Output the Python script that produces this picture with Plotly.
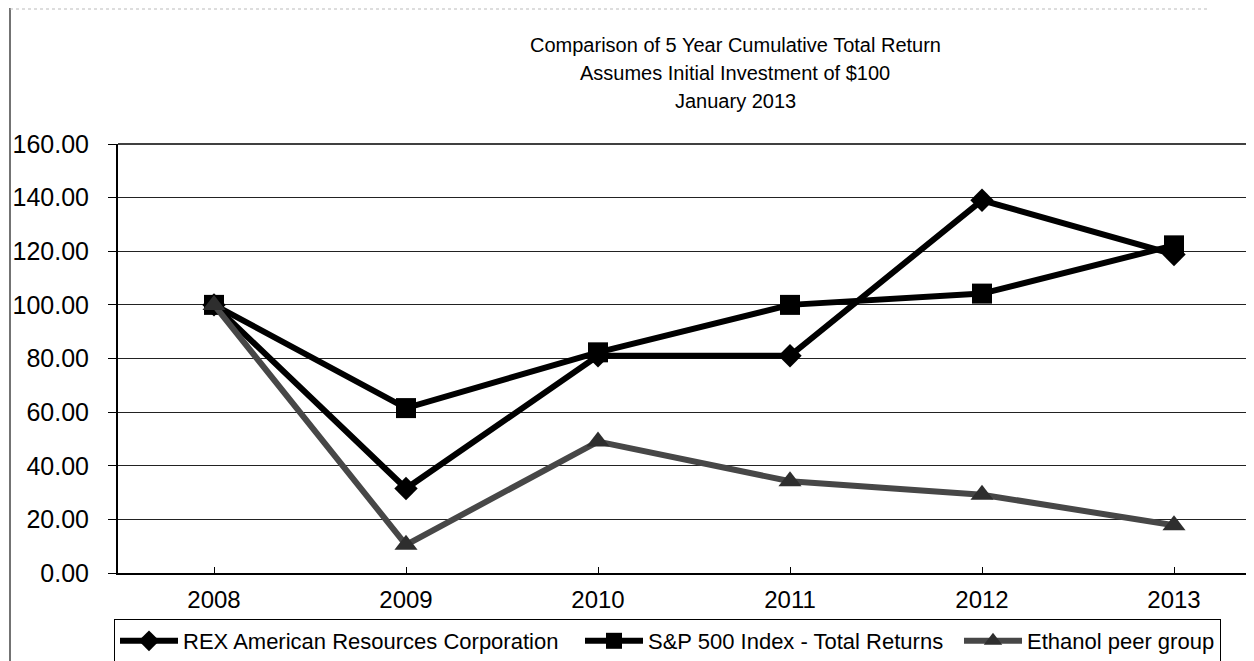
import plotly.graph_objects as go

years = ["2008", "2009", "2010", "2011", "2012", "2013"]
rex = [100.0, 31.5, 81.0, 81.0, 139.0, 118.8]
sp500 = [100.0, 61.5, 82.3, 100.0, 104.2, 122.2]
ethanol = [100.0, 10.5, 49.0, 34.2, 29.2, 17.8]
names = ["REX American Resources Corporation", "S&P 500 Index - Total Returns", "Ethanol peer group"]
titles = ["Comparison of 5 Year Cumulative Total Return", "Assumes Initial Investment of $100", "January 2013"]

# the page body adds an 8px margin, so the figure is drawn 8px smaller
OFF = 8
W, H = 1254 - OFF, 661 - OFF
L, R, T, B = 118 - OFF, 0, 144 - OFF, 661 - 573
pw, ph = W - L - R, H - T - B

FONT = "Liberation Sans, Arial, sans-serif"

def px(xpage):
    return (xpage - OFF - L) / pw

def py(ypage):
    return (H - B - (ypage - OFF)) / ph

fig = go.Figure()
fig.add_trace(go.Scatter(x=years, y=rex, name=names[0], mode="lines+markers",
                         line=dict(color="black", width=6), legendwidth=392,
                         marker=dict(symbol="diamond", size=18, color="black")))
fig.add_trace(go.Scatter(x=years, y=sp500, name=names[1], mode="lines+markers",
                         line=dict(color="black", width=6), legendwidth=306,
                         marker=dict(symbol="square", size=20, color="black")))
fig.add_trace(go.Scatter(x=years, y=ethanol, name=names[2], mode="lines+markers",
                         line=dict(color="#474747", width=6),
                         marker=dict(symbol="triangle-up", size=20, color="#2e2e2e")))

# x range: categories spaced 192px, right edge cut by the image border
span = pw / 192.0
fig.update_xaxes(type="category", range=[-0.5, -0.5 + span], showgrid=False,
                 showline=True, linecolor="black", linewidth=2, automargin=False,
                 ticks="inside", ticklen=6, tickcolor="black", ticklabelstandoff=4,
                 tickfont=dict(family=FONT, size=24, color="black"))
fig.update_yaxes(range=[0, 160], dtick=20, tickformat=".2f", showgrid=True,
                 gridcolor="#222", gridwidth=1, zeroline=False, automargin=False,
                 showline=True, linecolor="black", linewidth=2, mirror=False,
                 ticks="outside", ticklen=8, tickcolor="black",
                 ticklabelstandoff=14,
                 tickfont=dict(family=FONT, size=25, color="black"))

anns = []
for t, ypage in zip(titles, [45, 73, 101]):
    anns.append(dict(text=t, x=px(735), y=py(ypage), xref="paper", yref="paper",
                     showarrow=False, xanchor="center", yanchor="middle",
                     font=dict(family=FONT, size=20, color="black")))

shapes = [
    dict(type="line", xref="paper", yref="paper", x0=px(10), x1=px(10),
         y0=py(8), y1=py(661), line=dict(color="#444", width=1.5)),
    dict(type="line", xref="paper", yref="paper", x0=px(10), x1=px(1210),
         y0=py(9), y1=py(9), line=dict(color="#bbb", width=1, dash="dot")),
    dict(type="line", xref="paper", yref="paper", x0=0, x1=1,
         y0=1, y1=1, line=dict(color="black", width=1.5)),
]

fig.update_layout(
    width=W, height=H,
    margin=dict(l=L, r=R, t=T, b=B, autoexpand=False),
    paper_bgcolor="white", plot_bgcolor="white",
    font=dict(family=FONT, color="black"),
    showlegend=True,
    legend=dict(orientation="h", xref="container", yref="container",
                x=(114 - OFF) / W, y=1 - (619 - OFF) / H,
                xanchor="left", yanchor="top",
                bordercolor="black", borderwidth=1, bgcolor="white",
                font=dict(family=FONT, size=22, color="black"),
                itemwidth=58, tracegroupgap=0),
    annotations=anns,
    shapes=shapes,
)

fig.write_html("out.html")
